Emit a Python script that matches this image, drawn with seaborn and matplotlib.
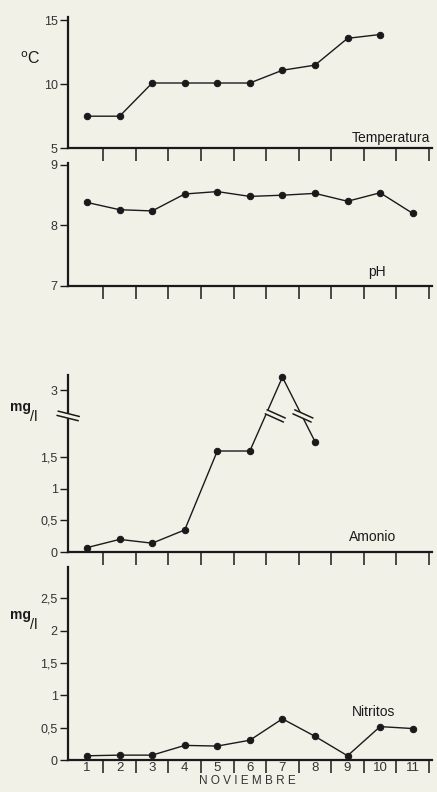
import numpy as np
import pandas as pd
import matplotlib
matplotlib.use("Agg")
import matplotlib.pyplot as plt
import matplotlib.transforms as mtransforms
import seaborn as sns

# datos (noviembre)
dias_temp = [1, 2, 3, 4, 5, 6, 7, 8, 9, 10]
temperatura = [7.5, 7.5, 10.1, 10.1, 10.1, 10.1, 11.1, 11.5, 13.6, 13.9]

dias_ph = [1, 2, 3, 4, 5, 6, 7, 8, 9, 10, 11]
ph = [8.38, 8.26, 8.24, 8.52, 8.56, 8.48, 8.5, 8.53, 8.4, 8.54, 8.2]

dias_amonio = [1, 2, 3, 4, 5, 6, 7, 8]
amonio = [0.07, 0.2, 0.14, 0.35, 1.6, 1.6, 3.21, 1.75]

dias_nitritos = [1, 2, 3, 4, 5, 6, 7, 8, 9, 10, 11]
nitritos = [0.07, 0.08, 0.08, 0.23, 0.22, 0.31, 0.64, 0.37, 0.07, 0.52, 0.49]

dia_labels = [str(d) for d in range(1, 12)]

BG = "#f2f1e8"
INK = "#1a1a1a"
GRIS = "#333333"

sns.set_theme(style="ticks")
plt.rcParams["font.family"] = ["Liberation Sans", "DejaVu Sans"]

fig = plt.figure(figsize=(4.37, 7.92), dpi=100, facecolor=BG)

L, W = 0.156, 0.833
ax_t = fig.add_axes([L, 0.813, W, 0.166])
ax_p = fig.add_axes([L, 0.639, W, 0.155])
ax_a = fig.add_axes([L, 0.303, W, 0.224])
ax_n = fig.add_axes([L, 0.040, W, 0.244])

# eje cortado para amonio
def fwd(y):
    return np.interp(y, [-1, 2.1, 2.64, 10], [-1, 2.1, 2.2, 9.56])

def inv(v):
    return np.interp(v, [-1, 2.1, 2.2, 9.56], [-1, 2.1, 2.64, 10])

ax_a.set_yscale("function", functions=(fwd, inv))

series = [
    (ax_t, dias_temp, temperatura),
    (ax_p, dias_ph, ph),
    (ax_a, dias_amonio, amonio),
    (ax_n, dias_nitritos, nitritos),
]

for ax, x, y in series:
    ax.set_facecolor(BG)
    df = pd.DataFrame({"dia": x, "valor": y})
    sns.lineplot(data=df, x="dia", y="valor", ax=ax, color=INK, lw=1.0,
                 marker="o", markersize=4.6, markeredgecolor=INK,
                 markerfacecolor=INK, clip_on=False)
    ax.set_xlim(0.42, 11.6)
    ax.set_xlabel("")
    ax.set_ylabel("")
    for s in ["top", "right"]:
        ax.spines[s].set_visible(False)
    for s in ["left", "bottom"]:
        ax.spines[s].set_linewidth(1.6)
        ax.spines[s].set_color(INK)
    ax.set_xticks(np.arange(1.5, 12, 1))
    ax.set_xticklabels([])
    ax.tick_params(axis="x", which="major", direction="out", length=9,
                   width=1.1, color=INK)
    ax.tick_params(axis="y", direction="out", length=6, width=1.0,
                   color=INK, labelsize=9, labelcolor=GRIS, pad=1.5)

ax_t.set_ylim(5, 15.3)
ax_t.set_yticks([5, 10, 15])
ax_p.set_ylim(7, 9.03)
ax_p.set_yticks([7, 8, 9])
ax_a.set_ylim(0, 3.25)
ax_a.set_yticks([0, 0.5, 1, 1.5, 3])
ax_a.set_yticklabels(["0", "0,5", "1", "1,5", "3"])
ax_n.set_ylim(0, 2.98)
ax_n.set_yticks([0, 0.5, 1, 1.5, 2, 2.5])
ax_n.set_yticklabels(["0", "0,5", "1", "1,5", "2", "2,5"])

# dias bajo el ultimo panel
ax_n.set_xticks(dias_nitritos, minor=True)
ax_n.set_xticklabels(dia_labels, minor=True)
ax_n.tick_params(axis="x", which="minor", length=0, pad=1.5,
                 labelsize=9.5, labelcolor=GRIS)
fig.text(0.565, 0.006, "N O V I E M B R E", ha="center", va="bottom",
         fontsize=8.5, color=GRIS)

# nombres de variables
ax_t.text(0.995, 0.05, "Temperatura", transform=ax_t.transAxes, ha="right",
          fontsize=10, color=INK)
ax_p.text(0.848, 0.08, "pH", transform=ax_p.transAxes, ha="center",
          fontsize=10, color=INK)
ax_a.text(0.835, 0.06, "Amonio", transform=ax_a.transAxes, ha="center",
          fontsize=10, color=INK)
ax_n.text(0.84, 0.23, "Nitritos", transform=ax_n.transAxes, ha="center",
          fontsize=10, color=INK)

# unidades
fig.text(0.068, 0.926, r"$^{\rm o}$C", fontsize=11.5, color=INK, ha="center",
         va="center")
for ax, yv in [(ax_a, 0.478), (ax_n, 0.216)]:
    fig.text(0.047, yv + 0.008, "mg", fontsize=10, color=INK,
             ha="center", va="center", fontweight="bold")
    fig.text(0.078, yv - 0.005, "/l", fontsize=10.5, color=INK,
             ha="center", va="center")


def marca_corte(ax, base, xc, yc, ang=-0.42, half=0.095, sep=0.022):
    # dos rayitas paralelas con hueco entre ellas
    tr = fig.dpi_scale_trans + mtransforms.ScaledTranslation(xc, yc, base)
    d = np.array([1.0, ang])
    d = d / np.hypot(*d)
    nrm = np.array([-d[1], d[0]])
    p0, p1 = -half * d, half * d
    ax.plot([p0[0], p1[0]], [p0[1], p1[1]], color=BG, lw=3.2,
            transform=tr, clip_on=False, zorder=5, solid_capstyle="butt")
    for s in (-1, 1):
        q0 = p0 + s * sep * nrm
        q1 = p1 + s * sep * nrm
        ax.plot([q0[0], q1[0]], [q0[1], q1[1]], color=INK, lw=1.1,
                transform=tr, clip_on=False, zorder=6)


marca_corte(ax_a, ax_a.get_yaxis_transform(), 0.0, 2.4, ang=-0.25, half=0.11)
marca_corte(ax_a, ax_a.transData, 6.78, 2.4, ang=-0.45, half=0.1)
marca_corte(ax_a, ax_a.transData, 7.63, 2.4, ang=-0.45, half=0.1)

fig.savefig("out.png", dpi=100, facecolor=BG)
